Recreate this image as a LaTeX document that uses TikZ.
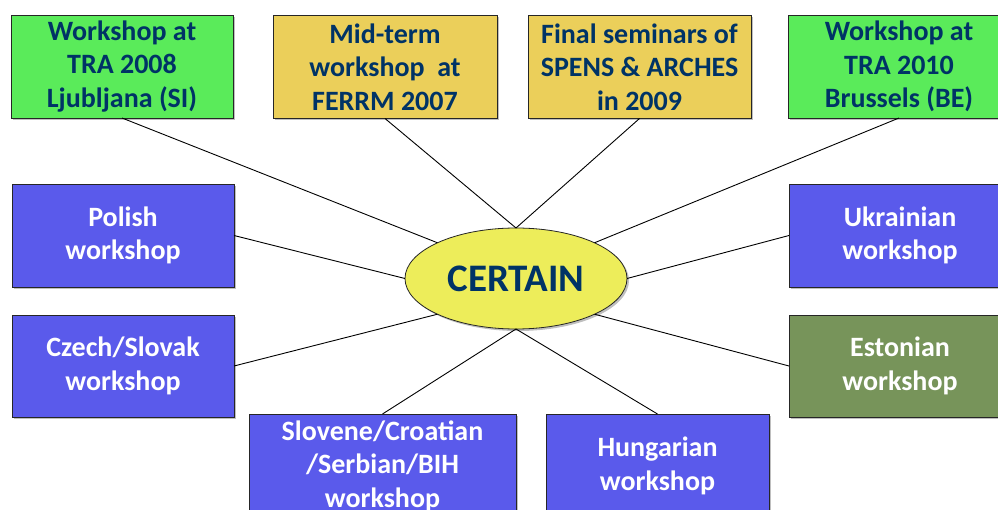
\documentclass[tikz,border=0pt]{standalone}
\usepackage{fontspec}
\setmainfont{Carlito}
\usetikzlibrary{shapes.geometric,shadows}
\definecolor{cgreen}{HTML}{5AEB5A}
\definecolor{cgold}{HTML}{EBCF5A}
\definecolor{cblue}{HTML}{5A5AEB}
\definecolor{colive}{HTML}{77945A}
\definecolor{cyell}{HTML}{EDED5A}
\definecolor{navy}{HTML}{003366}
\begin{document}
\begin{tikzpicture}[x=1pt,y=-1pt,
  box/.style={draw=black!85, line width=0.8pt, minimum width=222pt, minimum height=103pt,
    inner sep=0pt, outer sep=0pt, align=center,
    font=\fontsize{28}{33.5}\selectfont\bfseries,
    drop shadow={shadow xshift=2pt,shadow yshift=-2pt,fill=black,opacity=0.25}},
  topbox/.style={box, text=navy},
  wbox/.style={box, text=white},
  conn/.style={draw=black, line width=0.9pt}]
\useasboundingbox (0,0) rectangle (998,510);
\clip (0,0) rectangle (998,510);
\fill[white] (0,0) rectangle (998,510);
% top row
\node[topbox, fill=cgreen] (b1) at (122,66.5) {Workshop at\\TRA 2008\\Ljubljana (SI)};
\node[topbox, fill=cgold, minimum width=224pt] (b2) at (385,67) {Mid-term\\workshop~ at\\FERRM 2007};
\node[topbox, fill=cgold, minimum width=223pt] (b3) at (639.5,67) {Final seminars of\\SPENS \& ARCHES\\in 2009};
\node[topbox, fill=cgreen] (b4) at (899,66.5) {Workshop at\\TRA 2010\\Brussels (BE)};
% side boxes
\node[wbox, fill=cblue] (pol) at (123,235.5) {Polish\\workshop};
\node[wbox, fill=cblue, minimum height=102pt] (cz) at (123,366) {Czech/Slovak\\workshop};
\node[wbox, fill=cblue] (ukr) at (900,235.5) {Ukrainian\\workshop};
\node[wbox, fill=colive, minimum height=102pt] (est) at (900,366) {Estonian\\workshop};
% bottom boxes
\node[wbox, fill=cblue, minimum width=267pt, minimum height=104pt] (slo) at (382.5,466) {Slovene/Croatian\\/Serbian/BIH\\workshop};
\node[wbox, fill=cblue, minimum width=223pt, minimum height=104pt] (hun) at (657.5,466) {Hungarian\\workshop};
% centre
\node[ellipse, draw=black!85, line width=0.8pt, fill=cyell, minimum width=222pt, minimum height=101pt,
  inner sep=0pt, outer sep=0pt, text=navy, font=\fontsize{39}{44}\selectfont\bfseries,
  drop shadow={shadow xshift=2pt,shadow yshift=-2pt,fill=black,opacity=0.25}] (c) at (516,278.5) {CERTAIN};
% connectors
\draw[conn] (b1.south) -- (c.north west);
\draw[conn] (b2.south) -- (c.north);
\draw[conn] (b3.south) -- (c.north);
\draw[conn] (b4.south) -- (c.north east);
\draw[conn] (pol.east) -- (c.west);
\draw[conn] (ukr.west) -- (c.east);
\draw[conn] (cz.east) -- (c.south west);
\draw[conn] (est.west) -- (c.south east);
\draw[conn] (slo.north) -- (c.south);
\draw[conn] (hun.north) -- (c.south);
\end{tikzpicture}
\end{document}
